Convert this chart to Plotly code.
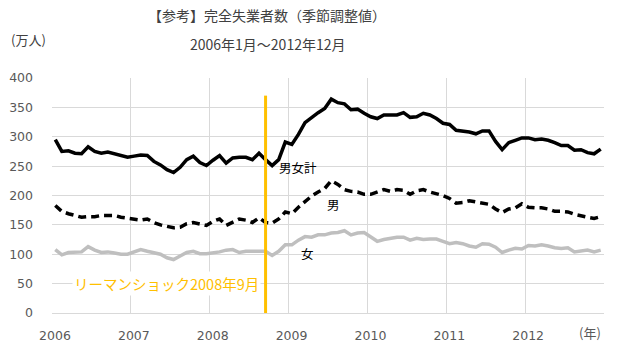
import plotly.graph_objects as go

# Unemployed persons, seasonally adjusted (10 thousand persons), Jan 2006 - Dec 2012
years = ["2006", "2007", "2008", "2009", "2010", "2011", "2012"]
months_per_year = 12

total = [
    295, 275, 276, 272, 271, 283, 275, 272, 274, 271, 267, 265,
    267, 269, 268, 258, 252, 244, 239, 248, 261, 267, 256, 251,
    260, 268, 255, 264, 265, 265, 261, 272, 261, 251, 261, 291,
    287, 304, 324, 333, 341, 348, 364, 358, 356, 346, 347, 340,
    334, 331, 337, 337, 337, 341, 333, 334, 340, 337, 331, 323,
    321, 311, 310, 308, 305, 310, 310, 292, 278, 290, 294, 298,
    298, 295, 296, 294, 290, 285, 285, 277, 278, 273, 271, 279,
]
male = [
    183, 173, 169, 166, 163, 164, 164, 166, 166, 166, 163, 161,
    160, 158, 160, 154, 150, 147, 145, 146, 152, 154, 152, 149,
    156, 160, 149, 154, 160, 158, 154, 162, 154, 153, 160, 172,
    169, 180, 189, 199, 206, 212, 225, 219, 210, 207, 206, 202,
    202, 206, 210, 207, 210, 209, 202, 208, 210, 206, 203, 200,
    195, 187, 188, 191, 189, 187, 185, 177, 171, 177, 179, 186,
    180, 179, 179, 177, 173, 173, 172, 168, 165, 163, 161, 164,
]
female = [
    108, 99, 103, 104, 104, 113, 107, 103, 104, 102, 100, 100,
    104, 108, 105, 102, 100, 94, 91, 97, 103, 105, 101, 101,
    102, 104, 107, 108, 103, 105, 105, 105, 105, 98, 105, 116,
    116, 124, 130, 129, 133, 133, 136, 137, 140, 133, 136, 137,
    129, 122, 125, 127, 129, 129, 124, 127, 125, 126, 126, 122,
    118, 120, 118, 114, 112, 118, 117, 112, 103, 107, 110, 109,
    115, 114, 116, 114, 111, 110, 111, 104, 105, 107, 104, 107,
]

# Lehman shock marker: September 2008 (month index from Jan 2006) and line top
event_index = 2 * months_per_year + 8
event_top = 370

n = len(total)
x = list(range(n))

GRID = "#D9D9D9"
ORANGE = "#FFC000"
CJK = "Noto Sans CJK JP"

fig = go.Figure()
fig.add_trace(go.Scatter(x=x, y=female, mode="lines",
                         line=dict(color="#BFBFBF", width=3.5), name="女"))
fig.add_trace(go.Scatter(x=x, y=male, mode="lines",
                         line=dict(color="#000000", width=3.5, dash="8px,5px"), name="男"))
fig.add_trace(go.Scatter(x=x, y=total, mode="lines",
                         line=dict(color="#000000", width=3.5), name="男女計"))
fig.add_trace(go.Scatter(x=[event_index, event_index], y=[0, event_top], mode="lines",
                         line=dict(color=ORANGE, width=3), name="リーマンショック"))

# year boundaries carry the gridlines; labels sit on the first month
tickvals = [k * months_per_year - 0.5 for k in range(len(years) + 1)]
ticktext = years + [""]

fig.update_layout(
    width=617, height=349,
    margin=dict(l=52, r=13, t=78, b=36),
    paper_bgcolor="white", plot_bgcolor="white",
    showlegend=False,
    font=dict(family="DejaVu Sans", size=13, color="#595959"),
    xaxis=dict(range=[-0.5, n - 0.5], tickvals=tickvals, ticktext=ticktext,
               showgrid=True, gridcolor=GRID, gridwidth=1, zeroline=False,
               showline=False, ticks="", ticklabelshift=3, ticklabelstandoff=13,
               automargin=False, tickfont=dict(size=12.5, color="#595959")),
    yaxis=dict(range=[0, 400], dtick=50, showgrid=True, gridcolor=GRID, gridwidth=1,
               zeroline=True, zerolinecolor=GRID, zerolinewidth=1, showline=False,
               ticks="", ticklabelstandoff=18, automargin=False,
               tickfont=dict(size=12.5, color="#595959")),
)

paper_text = dict(xref="paper", yref="paper", xanchor="center", yanchor="middle",
                  showarrow=False)
annotations = [
    dict(text="【参考】完全失業者数（季節調整値）", x=0.3895, y=1.268,
         font=dict(family=CJK, size=14, color="#404040"), **paper_text),
    dict(text="2006年1月～2012年12月", x=0.3895, y=1.145,
         font=dict(family=CJK, size=14, color="#404040"), **paper_text),
    dict(text="(万人)", x=-0.042, y=1.162,
         font=dict(family=CJK, size=13, color="#404040"), **paper_text),
    dict(text="(年)", x=0.975, y=-0.085,
         font=dict(family=CJK, size=13, color="#595959"), **paper_text),
    dict(text="リーマンショック2008年9月", x=event_index - 0.7, y=51, xanchor="right",
         showarrow=False, bgcolor="white", font=dict(family=CJK, size=14.5, color=ORANGE)),
    dict(text="男女計", x=37.0, y=248, showarrow=False,
         font=dict(family=CJK, size=12.5, color="#000000")),
    dict(text="男", x=42.3, y=185.5, showarrow=False,
         font=dict(family=CJK, size=12.5, color="#000000")),
    dict(text="女", x=38.35, y=101.6, showarrow=False,
         font=dict(family=CJK, size=12.5, color="#000000")),
]
fig.update_layout(annotations=annotations)

fig.write_html("out.html")
